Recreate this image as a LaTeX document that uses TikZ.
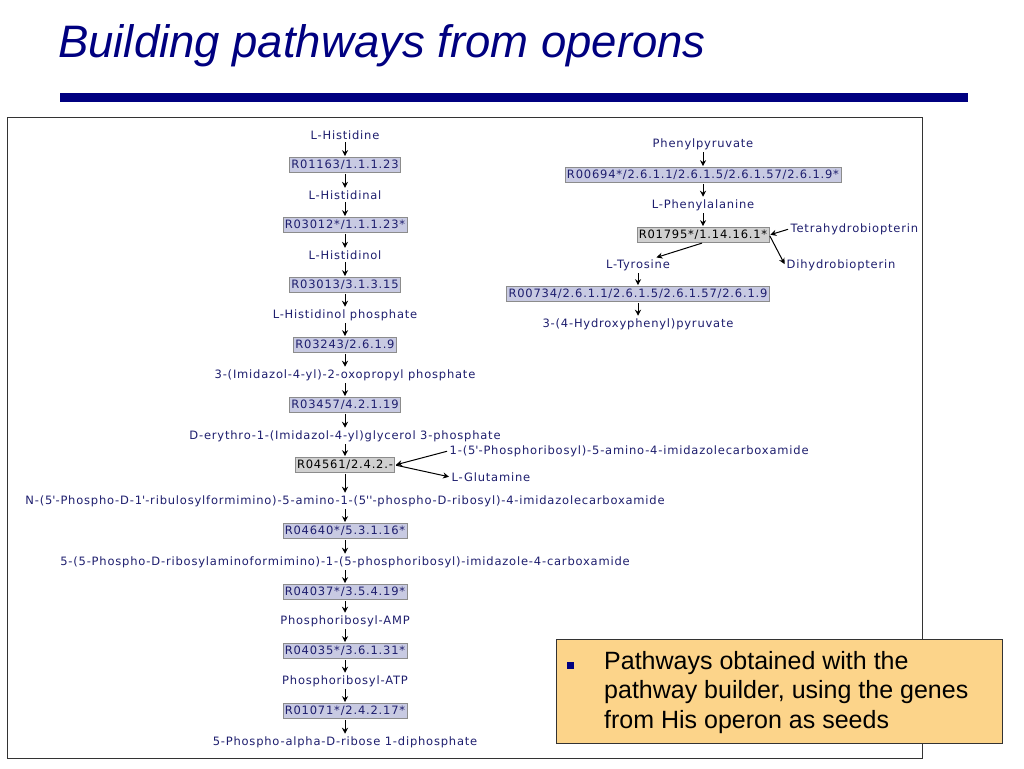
\documentclass[tikz,border=0pt]{standalone}
\usepackage{fontspec}
\setmainfont{Liberation Sans}
\newfontfamily\djv[LetterSpace=7]{DejaVu Sans}
\usetikzlibrary{arrows.meta}
\definecolor{navytitle}{RGB}{0,0,128}
\definecolor{txtblue}{RGB}{30,30,110}
\definecolor{boxblue}{RGB}{200,202,226}
\definecolor{boxgray}{RGB}{208,208,208}
\definecolor{boxedge}{RGB}{140,140,140}
\definecolor{noteorange}{RGB}{252,212,138}
\newcommand\pq{\textquotesingle}
\tikzset{
  met/.style={font=\djv\fontsize{11.5}{13}\selectfont, text=txtblue, inner sep=1.5pt},
  rxn/.style={font=\djv\fontsize{11.5}{13}\selectfont, text=txtblue, fill=boxblue, draw=boxedge, line width=0.6pt, inner sep=1.8pt, minimum height=15pt},
  rxngray/.style={rxn, text=black, fill=boxgray},
  arr/.style={-{Stealth[length=6pt,width=6pt]}, line width=1pt, black, shorten >=1pt, shorten <=1pt},
}
\begin{document}
\begin{tikzpicture}[x=1pt,y=-1pt]
\useasboundingbox (0,0) rectangle (1024,768);
\fill[white] (0,0) rectangle (1024,768);
% title
\node[anchor=base west, inner sep=0, font=\fontsize{45.5}{50}\selectfont\itshape, text=navytitle] (title) at (58,58) {Building pathways from operons};
\fill[navytitle] (60,93) rectangle (968,102);
% frame
\draw[line width=1pt, draw=black!80] (7.5,117) rectangle (922,758);

% left column
\def\cx{345}
\node[met] (m1) at (\cx,135) {L-Histidine};
\node[rxn] (r1) at (\cx,165) {R01163/1.1.1.23};
\node[met] (m2) at (\cx,195) {L-Histidinal};
\node[rxn] (r2) at (\cx,225) {R03012*/1.1.1.23*};
\node[met] (m3) at (\cx,255) {L-Histidinol};
\node[rxn] (r3) at (\cx,285) {R03013/3.1.3.15};
\node[met] (m4) at (\cx,315) {L-Histidinol phosphate};
\node[rxn] (r4) at (\cx,345) {R03243/2.6.1.9};
\node[met] (m5) at (\cx,375) {3-(Imidazol-4-yl)-2-oxopropyl phosphate};
\node[rxn] (r5) at (\cx,405) {R03457/4.2.1.19};
\node[met] (m6) at (\cx,436) {D-erythro-1-(Imidazol-4-yl)glycerol 3-phosphate};
\node[rxngray] (r6) at (\cx,465) {R04561/2.4.2.-};
\node[met] (m7) at (\cx,501) {N-(5\pq-Phospho-D-1\pq-ribulosylformimino)-5-amino-1-(5\pq\pq-phospho-D-ribosyl)-4-imidazolecarboxamide};
\node[rxn] (r7) at (\cx,531) {R04640*/5.3.1.16*};
\node[met] (m8) at (\cx,562) {5-(5-Phospho-D-ribosylaminoformimino)-1-(5-phosphoribosyl)-imidazole-4-carboxamide};
\node[rxn] (r8) at (\cx,592) {R04037*/3.5.4.19*};
\node[met] (m9) at (\cx,621) {Phosphoribosyl-AMP};
\node[rxn] (r9) at (\cx,651) {R04035*/3.6.1.31*};
\node[met] (m10) at (\cx,681) {Phosphoribosyl-ATP};
\node[rxn] (r10) at (\cx,711) {R01071*/2.4.2.17*};
\node[met] (m11) at (\cx,742) {5-Phospho-alpha-D-ribose 1-diphosphate};

\node[met, anchor=west] (aicar) at (448,451) {1-(5\pq-Phosphoribosyl)-5-amino-4-imidazolecarboxamide};
\node[met, anchor=west] (glu) at (450,477) {L-Glutamine};

\foreach \a/\b in {m1/r1,r1/m2,m2/r2,r2/m3,m3/r3,r3/m4,m4/r4,r4/m5,m5/r5,r5/m6,m6/r6,r6/m7,m7/r7,r7/m8,m8/r8,r8/m9,m9/r9,r9/m10,m10/r10,r10/m11}
  \draw[arr] (\a.south) -- (\b.north);
\draw[arr] (aicar.west) -- (r6.east);
\draw[arr] (r6.east) -- (glu.west);

% right part
\def\rx{703}
\node[met] (p1) at (\rx,144) {Phenylpyruvate};
\node[rxn] (q1) at (\rx,175) {R00694*/2.6.1.1/2.6.1.5/2.6.1.57/2.6.1.9*};
\node[met] (p2) at (\rx,205) {L-Phenylalanine};
\node[rxngray] (q2) at (\rx,235) {R01795*/1.14.16.1*};
\node[met, anchor=west] (thb) at (789,229) {Tetrahydrobiopterin};
\node[met, anchor=west] (dhb) at (785,265) {Dihydrobiopterin};
\node[met] (tyr) at (638,265) {L-Tyrosine};
\node[rxn] (q3) at (638,294) {R00734/2.6.1.1/2.6.1.5/2.6.1.57/2.6.1.9};
\node[met] (p3) at (638,324) {3-(4-Hydroxyphenyl)pyruvate};

\draw[arr] (p1.south) -- (q1.north);
\draw[arr] (q1.south) -- (p2.north);
\draw[arr] (p2.south) -- (q2.north);
\draw[arr] (thb.west) -- (q2.east);
\draw[arr] (q2.east) -- (dhb.west);
\draw[arr] (q2.south) -- ([xshift=-16pt]tyr.north east);
\draw[arr] (tyr.south) -- (q3.north);
\draw[arr] (q3.south) -- (p3.north);

% note box
\node[draw=black!80, line width=1pt, fill=noteorange, minimum width=446pt, minimum height=104pt, anchor=north west, inner sep=0] (note) at (556,639) {};
\fill[navytitle] (567,662) rectangle (574,669) coordinate (bul);
\node[anchor=north west, align=left, inner sep=0, font=\fontsize{25}{29.5}\selectfont, text=black] (notetext) at (604,651)
  {Pathways obtained with the\\pathway builder, using the genes\\from His operon as seeds};
\end{tikzpicture}
\end{document}
